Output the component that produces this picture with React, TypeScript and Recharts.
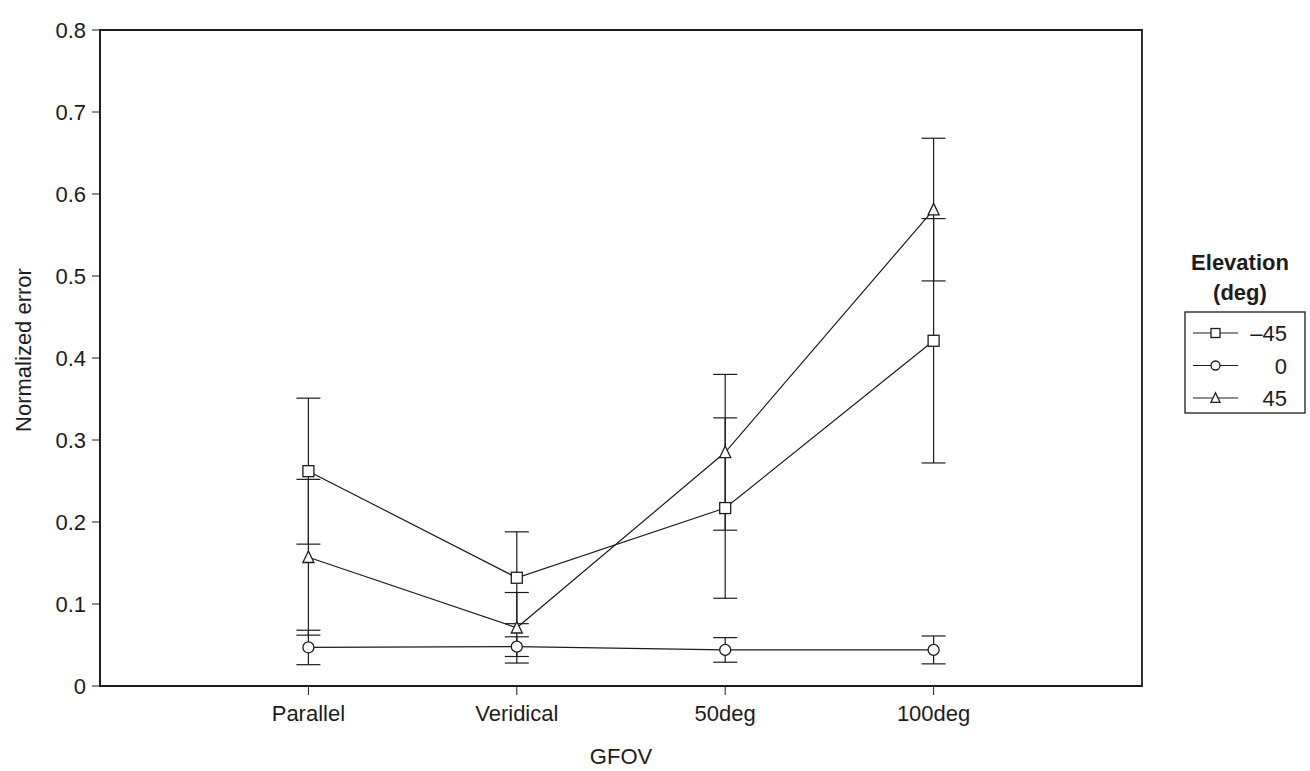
import React from 'react';
import { LineChart, Line, XAxis, YAxis, ErrorBar, Legend, ReferenceArea } from 'recharts';

const categories = ['Parallel', 'Veridical', '50deg', '100deg'];
const seriesNames = ['–45', '0', '45'];
const valuesMinus45 = [0.262, 0.132, 0.217, 0.421];
const errorsMinus45 = [0.089, 0.056, 0.11, 0.149];
const values0 = [0.047, 0.048, 0.044, 0.044];
const errors0 = [0.021, 0.012, 0.015, 0.017];
const values45 = [0.157, 0.071, 0.285, 0.581];
const errors45 = [0.095, 0.043, 0.095, 0.087];
const yTicks = [0, 0.1, 0.2, 0.3, 0.4, 0.5, 0.6, 0.7, 0.8];
const xTickPositions = [1, 2, 3, 4];
const xDomain = [0, 5];
const yDomain = [0, 0.8];

const data = categories.map((c, i) => ({
  x: xTickPositions[i],
  name: c,
  m45: valuesMinus45[i],
  m45e: errorsMinus45[i],
  z: values0[i],
  ze: errors0[i],
  p45: values45[i],
  p45e: errors45[i],
}));

const INK = '#1c1c1c';
const FONT = '"Liberation Sans", Arial, Helvetica, sans-serif';

const markerSquare = (cx: number, cy: number, s: number, key?: any) => (
  <rect key={key} x={cx - s / 2} y={cy - s / 2} width={s} height={s} fill="#fff" stroke={INK} strokeWidth={1.3} />
);
const markerCircle = (cx: number, cy: number, s: number, key?: any) => (
  <circle key={key} cx={cx} cy={cy} r={s / 2} fill="#fff" stroke={INK} strokeWidth={1.3} />
);
const markerTriangle = (cx: number, cy: number, s: number, key?: any) => {
  const h = s * 0.95;
  return (
    <polygon
      key={key}
      points={`${cx},${cy - h / 2 - 1} ${cx - s / 2},${cy + h / 2} ${cx + s / 2},${cy + h / 2}`}
      fill="#fff"
      stroke={INK}
      strokeWidth={1.3}
    />
  );
};
const markers = [markerSquare, markerCircle, markerTriangle];

const makeDot = (idx: number) => (p: any) => {
  if (p.cx == null || p.cy == null) return <g key={p.key ?? p.index} />;
  return markers[idx](p.cx, p.cy, 11, p.key ?? `d${idx}-${p.index}`);
};

const LegendBox = () => (
  <svg width={170} height={185} style={{ display: 'block' }}>
    <text x={90} y={30} textAnchor="middle" fontFamily={FONT} fontSize={22} fontWeight="bold" fill={INK}>
      Elevation
    </text>
    <text x={90} y={60} textAnchor="middle" fontFamily={FONT} fontSize={22} fontWeight="bold" fill={INK}>
      (deg)
    </text>
    <rect x={35} y={72} width={120} height={101} fill="#fff" stroke={INK} strokeWidth={1.3} />
    {seriesNames.map((n, i) => {
      const y = 93 + i * 32.5;
      return (
        <g key={n}>
          <line x1={43} x2={88} y1={y} y2={y} stroke={INK} strokeWidth={1.2} />
          {markers[i](65.5, y, 9)}
          <text x={137} y={y + 8} textAnchor="end" fontFamily={FONT} fontSize={22} fill={INK}>
            {n}
          </text>
        </g>
      );
    })}
  </svg>
);

const YLabel = (props: any) => {
  const vb = props.viewBox || { y: 30, height: 656 };
  const cy = vb.y + vb.height / 2 - 8;
  return (
    <text
      x={23}
      y={cy}
      transform={`rotate(-90 23 ${cy})`}
      textAnchor="middle"
      dominantBaseline="central"
      fontFamily={FONT}
      fontSize={22}
      fill={INK}
    >
      Normalized error
    </text>
  );
};

const XLabel = (props: any) => {
  const vb = props.viewBox || { x: 100, y: 686, width: 1042 };
  const cx = vb.x + vb.width / 2;
  return (
    <text x={cx} y={764} textAnchor="middle" fontFamily={FONT} fontSize={22} fill={INK}>
      GFOV
    </text>
  );
};

export default function App() {
  const tickStyle = { fontFamily: FONT, fontSize: 22, fill: INK };
  return (
    <div style={{ position: 'absolute', left: 0, top: 0, width: 1310, height: 771, background: '#fff' }}>
      <LineChart width={1310} height={771} data={data} margin={{ top: 30, right: 168, bottom: 0, left: 0 }}>
        <ReferenceArea
          x1={xDomain[0]}
          x2={xDomain[1]}
          y1={yDomain[0]}
          y2={yDomain[1]}
          fill="none"
          fillOpacity={0}
          stroke={INK}
          strokeWidth={1.8}
          ifOverflow="visible"
        />
        <XAxis
          dataKey="x"
          type="number"
          domain={xDomain}
          ticks={xTickPositions}
          tickFormatter={(v: number) => categories[v - 1] ?? ''}
          height={85}
          tickSize={9}
          tickMargin={10}
          tick={tickStyle}
          axisLine={{ stroke: INK, strokeWidth: 1.8 }}
          tickLine={{ stroke: INK, strokeWidth: 1 }}
          allowDecimals={false}
          label={<XLabel />}
        />
        <YAxis
          type="number"
          domain={yDomain}
          ticks={yTicks}
          tickFormatter={(v: number) => (v === 0 ? '0' : v.toFixed(1))}
          width={100}
          tickSize={8}
          tickMargin={6}
          tick={tickStyle}
          axisLine={{ stroke: INK, strokeWidth: 1.8 }}
          tickLine={{ stroke: INK, strokeWidth: 1 }}
          label={<YLabel />}
        />
        <Legend
          layout="horizontal"
          verticalAlign="middle"
          align="center"
          wrapperStyle={{ position: 'absolute', left: 1150, top: 240, width: 170, height: 185 }}
          content={() => <LegendBox />}
        />
        <Line
          name={seriesNames[0]}
          dataKey="m45"
          stroke={INK}
          strokeWidth={1.2}
          isAnimationActive={false}
          dot={makeDot(0)}
          activeDot={false}
        >
          <ErrorBar dataKey="m45e" direction="y" width={12} stroke={INK} strokeWidth={1.2} />
        </Line>
        <Line
          name={seriesNames[1]}
          dataKey="z"
          stroke={INK}
          strokeWidth={1.2}
          isAnimationActive={false}
          dot={makeDot(1)}
          activeDot={false}
        >
          <ErrorBar dataKey="ze" direction="y" width={12} stroke={INK} strokeWidth={1.2} />
        </Line>
        <Line
          name={seriesNames[2]}
          dataKey="p45"
          stroke={INK}
          strokeWidth={1.2}
          isAnimationActive={false}
          dot={makeDot(2)}
          activeDot={false}
        >
          <ErrorBar dataKey="p45e" direction="y" width={12} stroke={INK} strokeWidth={1.2} />
        </Line>
      </LineChart>
    </div>
  );
}
